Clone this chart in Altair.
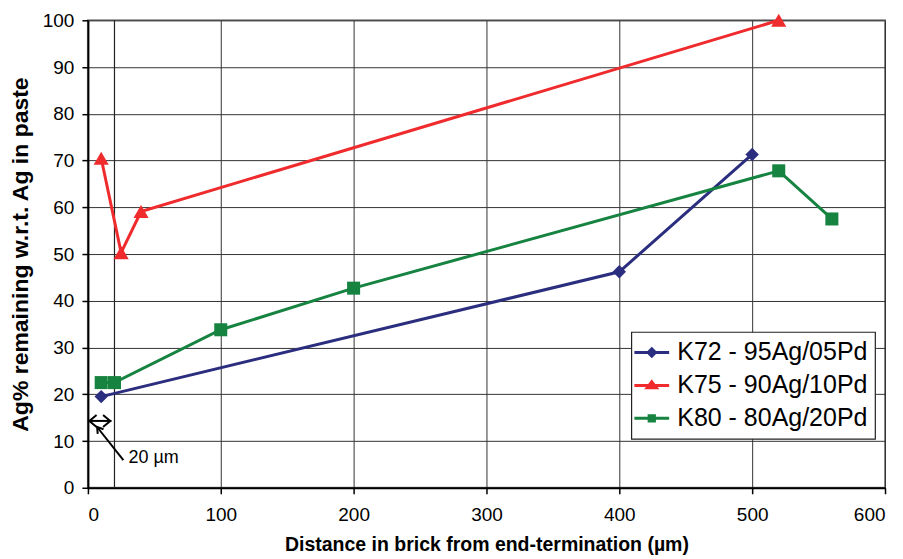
import altair as alt
import pandas as pd

# ---- data ----
series_names = ["K72 - 95Ag/05Pd", "K75 - 90Ag/10Pd", "K80 - 80Ag/20Pd"]
series_colors = ["#2B2E7E", "#EF2B2D", "#168341"]

k72_dist = [10, 400, 500]
k72_ag = [19.5, 46.2, 71.3]
k75_dist = [10, 25, 40, 520]
k75_ag = [70.5, 50.3, 59.1, 100.0]
k80_dist = [10, 20, 100, 200, 520, 560]
k80_ag = [22.5, 22.5, 33.8, 42.7, 67.8, 57.5]

x_ticks = [0, 100, 200, 300, 400, 500, 600]
y_ticks = [0, 10, 20, 30, 40, 50, 60, 70, 80, 90, 100]

marker_shapes = ["diamond", "triangle-up", "square"]
marker_sizes = [180, 230, 170]
# legend symbols: a line with a (stroke-filled) marker in the middle
legend_paths = [
    "M-1.45,0H1.45M0,-0.3L0.3,0L0,0.3L-0.3,0ZM0,-0.1L0.1,0L0,0.1L-0.1,0Z",
    "M-1.45,0H1.45M0,-0.3L0.38,0.2L-0.38,0.2ZM0,-0.05L0.1,0.12L-0.1,0.12Z",
    "M-1.45,0H1.45M-0.22,-0.22H0.22V0.22H-0.22ZM-0.05,-0.05H0.05V0.05H-0.05Z",
]

# annotation ("20 µm")
ref_line_dist = [20]
span_start, span_end, span_level = 0, 17.7, 14.3
pointer_from = (26.7, 5.9)
pointer_to = (6.9, 13.0)
note_pos = (30.5, 6.35)
note_text = "20 µm"

# ---- tables ----
rows = []
for name, xs, ys in [(series_names[0], k72_dist, k72_ag),
                     (series_names[1], k75_dist, k75_ag),
                     (series_names[2], k80_dist, k80_ag)]:
    for i, (xv, yv) in enumerate(zip(xs, ys)):
        rows.append({"series": name, "dist": xv, "ag": yv, "order": i})
df = pd.DataFrame(rows)

FONT = "Liberation Sans"

x_scale = alt.Scale(domain=[0, 600], nice=False, zero=False)
y_scale = alt.Scale(domain=[0, 100], nice=False, zero=False)

x_axis = alt.Axis(values=x_ticks, title="Distance in brick from end-termination (µm)",
                  labelPadding=12, titlePadding=11, format="d")
y_axis = alt.Axis(values=y_ticks, title="Ag% remaining w.r.t. Ag in paste",
                  labelPadding=8, titlePadding=10, format="d")


def X(field="dist"):
    return alt.X(f"{field}:Q", scale=x_scale, axis=x_axis)


def Y(field="ag"):
    return alt.Y(f"{field}:Q", scale=y_scale, axis=y_axis)


base = alt.Chart(df)

line_layers = []
point_layers = []
for name, col, shp, sz in zip(series_names, series_colors, marker_shapes, marker_sizes):
    sub = base.transform_filter(alt.datum.series == name)
    line_layers.append(
        sub.mark_line(strokeWidth=3, color=col).encode(x=X(), y=Y(), order="order:Q")
    )
    point_layers.append(
        sub.mark_point(filled=True, shape=shp, size=sz, opacity=1, color=col)
        .encode(x=X(), y=Y())
    )

legend_layer = base.transform_filter("datum.ag < 0").mark_point(
    filled=False, strokeWidth=3, opacity=1
).encode(
    x=X(), y=Y(),
    color=alt.Color("series:N", scale=alt.Scale(domain=series_names, range=series_colors),
                    legend=alt.Legend(title=None)),
    shape=alt.Shape("series:N", scale=alt.Scale(domain=series_names, range=legend_paths),
                    legend=alt.Legend(title=None)),
)

ref_df = pd.DataFrame({"dist": ref_line_dist})
ref_rule = alt.Chart(ref_df).mark_rule(color="#222", strokeWidth=1.2).encode(x=X())

seg_df = pd.DataFrame({
    "dist": [span_start, pointer_from[0]],
    "ag": [span_level, pointer_from[1]],
    "dist2": [span_end, pointer_to[0]],
    "ag2": [span_level, pointer_to[1]],
})
segs = alt.Chart(seg_df).mark_rule(color="black", strokeWidth=2).encode(
    x=X(), y=Y(), x2="dist2:Q", y2="ag2:Q"
)

heads_df = pd.DataFrame({
    "dist": [3.8, span_end - 3.6, pointer_to[0]],
    "ag": [span_level, span_level, pointer_to[1]],
    "kind": ["l", "r", "p"],
})
head_paths = {
    "l": "M0.6,-1L-0.6,0L0.6,1",
    "r": "M-0.6,-1L0.6,0L-0.6,1",
    "p": "M-0.7,1.1L0,0L0.7,1.1",
}
head_layers = []
for k, ang, sz in [("l", 0, 144), ("r", 0, 144), ("p", 322, 110)]:
    head_layers.append(
        alt.Chart(heads_df).transform_filter(alt.datum.kind == k)
        .mark_point(shape=head_paths[k], filled=False, stroke="black", strokeWidth=2,
                    size=sz, angle=ang, opacity=1)
        .encode(x=X(), y=Y())
    )

note_df = pd.DataFrame({"dist": [note_pos[0]], "ag": [note_pos[1]], "label": [note_text]})
note = alt.Chart(note_df).mark_text(align="left", baseline="middle", fontSize=18,
                                    font=FONT, color="black").encode(
    x=X(), y=Y(), text="label:N"
)

chart = alt.layer(
    ref_rule, segs, *head_layers, note, *line_layers, *point_layers, legend_layer
).properties(
    width=798, height=468,
    autosize=alt.AutoSizeParams(type="none"),
    padding={"left": 80, "top": 12, "right": 10, "bottom": 70},
).configure_view(
    stroke="#888", strokeWidth=2
).configure_axis(
    domainColor="black", domainWidth=2,
    tickColor="black", tickSize=6, tickWidth=1.5,
    gridColor="#333", gridWidth=1, gridOpacity=1,
    labelFont=FONT, labelFontSize=19, labelColor="black",
    titleFont=FONT, titleFontSize=19.5, titleFontWeight="bold", titleColor="black",
).configure_axisY(
    titleFontSize=23
).configure_legend(
    orient="none", legendX=544, legendY=312,
    strokeColor="#222", strokeWidth=1.2, fillColor="white",
    padding=7, symbolSize=576, symbolStrokeWidth=3, symbolOpacity=1,
    labelFont=FONT, labelFontSize=25, labelColor="black", labelOffset=12,
    rowPadding=6, labelLimit=400,
)

chart.save("out.html", embed_options={"renderer": "svg", "actions": False})
